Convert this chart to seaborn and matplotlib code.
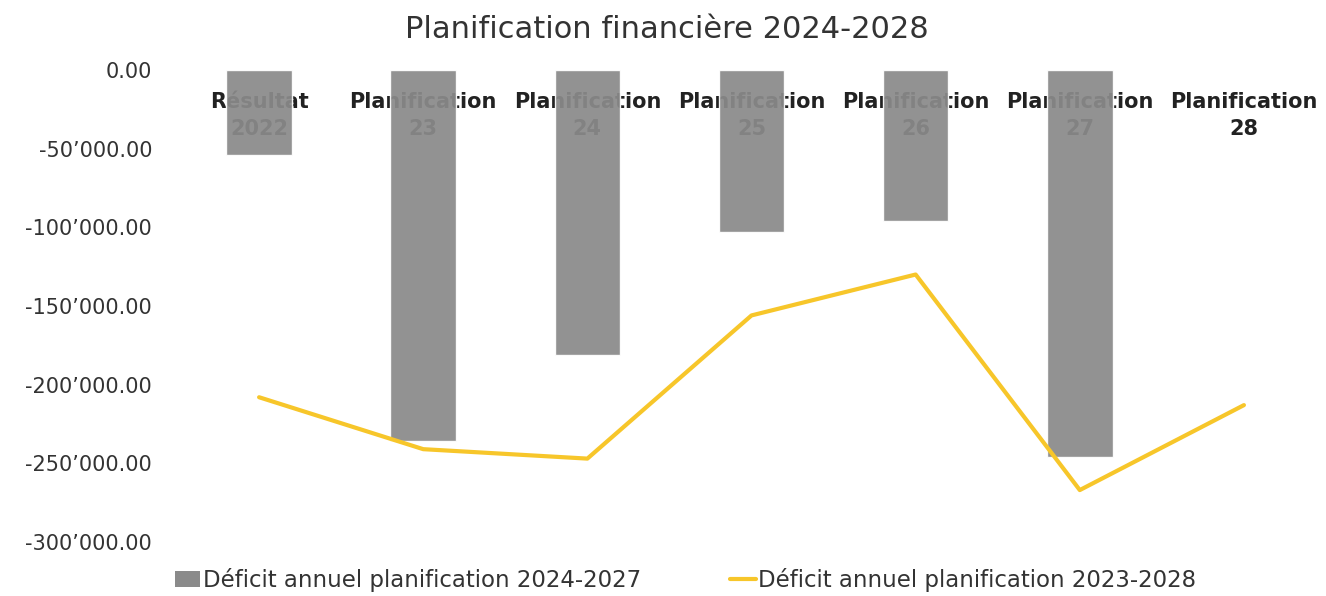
import seaborn as sns
import pandas as pd
import numpy as np
import matplotlib.pyplot as plt
from matplotlib.ticker import FuncFormatter
from matplotlib.patches import Patch
from matplotlib.lines import Line2D

categories = ['Résultat\n2022', 'Planification\n23', 'Planification\n24', 'Planification\n25',
              'Planification\n26', 'Planification\n27', 'Planification\n28']
deficit_2024_2027 = [-54000, -236000, -181000, -103000, -96000, -246000, np.nan]
deficit_2023_2028 = [-208000, -241000, -247000, -156000, -130000, -267000, -213000]
yticks = [0, -50000, -100000, -150000, -200000, -250000, -300000]

bar_label = 'Déficit annuel planification 2024-2027'
line_label = 'Déficit annuel planification 2023-2028'
bar_color = '#8a8a8a'
line_color = '#f7c62a'


def fmt(v, pos):
    return f'{v:,.2f}'.replace(',', '\u2019')


def main():
    sns.set_style('white')
    plt.rcParams['font.family'] = ['DejaVu Sans']

    df = pd.DataFrame({'cat': categories, 'bars': deficit_2024_2027, 'line': deficit_2023_2028})

    fig = plt.figure(figsize=(13.26, 5.96), dpi=100)
    ax = fig.add_axes([0.1335, 0.0906, 0.8665, 0.792])

    sns.barplot(data=df, x='cat', y='bars', color=bar_color, width=0.4, saturation=1,
                alpha=0.93, ax=ax, zorder=2)
    sns.lineplot(data=df, x='cat', y='line', color=line_color, linewidth=3, sort=False,
                 ax=ax, zorder=3)

    for i, c in enumerate(categories):
        ax.text(i, -29000, c, ha='center', va='center', fontsize=15, fontweight='bold',
                color='#222222', zorder=1, linespacing=1.45)

    ax.set_ylim(-300000, 0)
    ax.set_xlim(-0.5, len(categories) - 0.5)
    ax.set_yticks(yticks)
    ax.yaxis.set_major_formatter(FuncFormatter(fmt))
    ax.tick_params(axis='y', labelsize=15, labelcolor='#333333', length=0, pad=18)
    ax.set_xticks([])
    ax.set_xlabel('')
    ax.set_ylabel('')
    sns.despine(ax=ax, left=True, bottom=True)

    fig.text(0.503, 0.95, 'Planification financière 2024-2028', ha='center', va='center',
             fontsize=22, color='#333333')

    handles = [Patch(facecolor=bar_color, edgecolor='none', label=bar_label),
               Line2D([0], [0], color=line_color, linewidth=3, label=line_label)]
    fig.legend(handles=handles, loc='center', bbox_to_anchor=(0.517, 0.027), ncol=2,
               frameon=False, fontsize=16.5, handlelength=1.1, columnspacing=3.9,
               handletextpad=0.1, labelcolor='#333333')

    plt.savefig('out.png', dpi=100)


if __name__ == '__main__':
    main()
